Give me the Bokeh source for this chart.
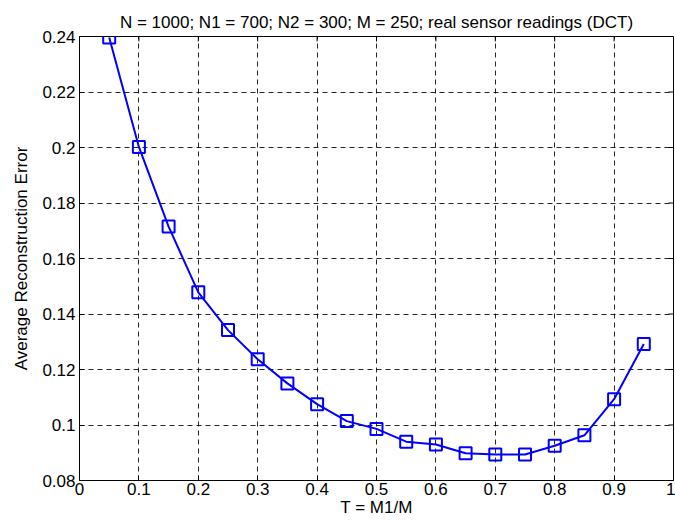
import math
from bokeh.plotting import figure
from bokeh.models import FixedTicker, Range1d
from bokeh.embed import file_html
from bokeh.resources import INLINE

t_values = [0.05, 0.10, 0.15, 0.20, 0.25, 0.30, 0.35, 0.40, 0.45, 0.50,
            0.55, 0.60, 0.65, 0.70, 0.75, 0.80, 0.85, 0.90, 0.95]
errors = [0.2396, 0.2002, 0.1715, 0.1478, 0.1342, 0.1237, 0.1150, 0.1075, 0.1014, 0.0986,
          0.0940, 0.0930, 0.0898, 0.0894, 0.0894, 0.0925, 0.0963, 0.1093, 0.1292]
x_ticks = [0, 0.1, 0.2, 0.3, 0.4, 0.5, 0.6, 0.7, 0.8, 0.9, 1.0]
x_tick_labels = ["0", "0.1", "0.2", "0.3", "0.4", "0.5", "0.6", "0.7", "0.8", "0.9", "1"]
y_ticks = [0.08, 0.10, 0.12, 0.14, 0.16, 0.18, 0.20, 0.22, 0.24]
y_tick_labels = ["0.08", "0.1", "0.12", "0.14", "0.16", "0.18", "0.2", "0.22", "0.24"]

FONT = "Liberation Sans"
X0, X1 = 0, 1
Y0, Y1 = 0.08, 0.24

p = figure(width=675, height=524, output_backend="svg", toolbar_location=None,
           x_range=Range1d(X0, X1), y_range=Range1d(Y0, Y1),
           min_border_left=79, min_border_right=2, min_border_top=36, min_border_bottom=44,
           title="N = 1000; N1 = 700; N2 = 300; M = 250; real sensor readings (DCT)")
p.title.text_font = FONT
p.title.text_font_size = "17px"
p.title.text_font_style = "normal"
p.title.text_color = "black"
p.title.align = "center"
p.title.offset = 14
p.title.standoff = 9

p.outline_line_color = "black"
p.outline_line_width = 1
p.outline_line_alpha = 1
p.background_fill_color = "white"
p.border_fill_color = "white"

for ax in (p.xaxis[0], p.yaxis[0]):
    ax.major_tick_in = 5
    ax.major_tick_out = 0
    ax.minor_tick_line_color = None
    ax.axis_line_color = "black"
    ax.major_tick_line_color = "black"
    ax.major_label_text_font = FONT
    ax.major_label_text_font_size = "17px"
    ax.major_label_text_color = "black"
    ax.axis_label_text_font = FONT
    ax.axis_label_text_font_size = "17px"
    ax.axis_label_text_font_style = "normal"
    ax.axis_label_text_color = "black"

p.xaxis[0].ticker = FixedTicker(ticks=x_ticks)
p.xaxis[0].major_label_overrides = {k: v for k, v in zip(x_ticks, x_tick_labels)}
p.yaxis[0].ticker = FixedTicker(ticks=y_ticks)
p.yaxis[0].major_label_overrides = {k: v for k, v in zip(y_ticks, y_tick_labels)}
p.xaxis[0].axis_label = "T = M1/M"
p.yaxis[0].axis_label = "Average Reconstruction Error"
p.xaxis[0].axis_label_standoff = 0
p.yaxis[0].axis_label_standoff = 8
p.xaxis[0].major_label_standoff = 2
p.yaxis[0].major_label_standoff = 4

p.xgrid.ticker = FixedTicker(ticks=x_ticks)
p.ygrid.ticker = FixedTicker(ticks=y_ticks)
for g in (p.xgrid[0], p.ygrid[0]):
    g.grid_line_color = "black"
    g.grid_line_dash = "5 4"
    g.grid_line_width = 1
    g.grid_line_alpha = 0.85

# inward ticks on top and right edges (box style)
p.ray(x=x_ticks, y=[Y1] * len(x_ticks), length=5, length_units="screen",
      angle=-math.pi / 2, line_color="black", line_width=1)
p.ray(x=[X1] * len(y_ticks), y=y_ticks, length=5, length_units="screen",
      angle=math.pi, line_color="black", line_width=1)

p.line(t_values, errors, line_color="#0000ff", line_width=2)
p.scatter(t_values, errors, marker="square", size=12, line_color="#0000ff",
          line_width=2, fill_color=None)

open("out.html", "w").write(file_html(p, INLINE))
